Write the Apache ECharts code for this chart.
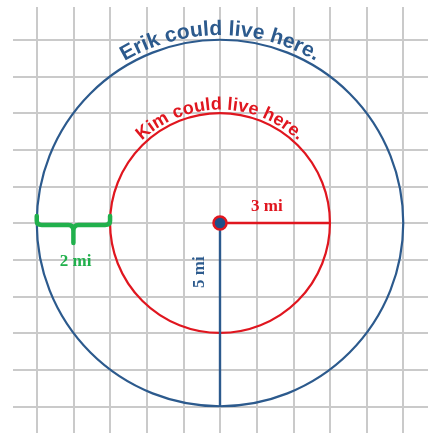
<!DOCTYPE html>
<html>
<head>
<meta charset="utf-8">
<script src="https://cdn.jsdelivr.net/npm/echarts@6/dist/echarts.min.js"></script>
<style>
  html, body { margin: 0; padding: 0; background: #fff; }
  #main { width: 428px; height: 433px; }
</style>
</head>
<body>
<div id="main"></div>
<script>
// 数据: 两个人可以居住的范围 (单位: 英里)
var circleNames = ['Erik', 'Kim'];
var circleRadius = [5, 3];
var circleTexts = ['Erik could live here.', 'Kim could live here.'];
// 半径线: [x1, y1, x2, y2]
var radiusLines = [[0, 0, 3, 0], [0, 0, 0, -5]];
// 括号: 两圆之间的距离
var braceRange = [-5, -3];
var distanceLabels = ['3 mi', '5 mi', '2 mi'];
var axisMin = -6;
var axisMax = 6;

// 样式
var BLUE = '#2c5a8d';
var RED = '#e0161f';
var GREEN = '#21b04c';
var CELL = 36.65;
var CX = 220, CY = 223;

var circleStyle = [
  { color: BLUE, fontSize: 21, gap: 3, spacing: 0 },
  { color: RED, fontSize: 18, gap: 2, spacing: 0 }
];
var lineColors = [RED, BLUE];
var labelStyle = [
  { color: RED, at: [1.28, 0.46], rotation: 0 },
  { color: BLUE, at: [-0.57, -1.34], rotation: Math.PI / 2 },
  { color: GREEN, at: [-3.94, -1.06], rotation: 0 }
];

var measureCtx = document.createElement('canvas').getContext('2d');

// 沿圆弧排列文字
function arcText(text, cx, cy, rBase, st) {
  var font = 'bold ' + st.fontSize + 'px "Liberation Sans", Arial, sans-serif';
  measureCtx.font = font;
  var widths = [];
  var total = 0;
  for (var i = 0; i < text.length; i++) {
    var w = measureCtx.measureText(text[i]).width + st.spacing;
    widths.push(w);
    total += w;
  }
  var rMid = rBase + st.fontSize * 0.36;
  var children = [];
  var s = -total / 2;
  for (var j = 0; j < text.length; j++) {
    var theta = (s + widths[j] / 2) / rBase;
    s += widths[j];
    children.push({
      type: 'text',
      x: cx + rMid * Math.sin(theta),
      y: cy - rMid * Math.cos(theta),
      rotation: -theta,
      style: {
        text: text[j],
        font: font,
        fill: st.color,
        align: 'center',
        verticalAlign: 'middle',
        textAlign: 'center',
        textVerticalAlign: 'middle'
      }
    });
  }
  return children;
}

function renderCircle(params, api) {
  var i = params.dataIndex;
  var c = api.coord([0, 0]);
  var r = api.size([api.value(0), 0])[0];
  var st = circleStyle[i];
  var children = [{
    type: 'circle',
    shape: { cx: c[0], cy: c[1], r: r },
    style: { fill: 'none', stroke: st.color, lineWidth: 2.2 }
  }];
  children = children.concat(arcText(circleTexts[i], c[0], c[1], r + st.gap, st));
  return { type: 'group', children: children };
}

function renderLine(params, api) {
  var p1 = api.coord([api.value(0), api.value(1)]);
  var p2 = api.coord([api.value(2), api.value(3)]);
  return {
    type: 'line',
    shape: { x1: p1[0], y1: p1[1], x2: p2[0], y2: p2[1] },
    style: { stroke: lineColors[params.dataIndex], lineWidth: 2.4 }
  };
}

function renderBrace(params, api) {
  var a = api.coord([api.value(0), 0]);
  var b = api.coord([api.value(1), 0]);
  var x1 = a[0], x2 = b[0], y = a[1], xm = (x1 + x2) / 2;
  var bar = y + 2;
  var d = 'M' + x1 + ',' + (y - 7) + ' L' + x1 + ',' + (bar - 4) +
    ' Q' + x1 + ',' + bar + ' ' + (x1 + 5) + ',' + bar +
    ' L' + (xm - 5) + ',' + bar +
    ' Q' + xm + ',' + bar + ' ' + xm + ',' + (bar + 6) +
    ' L' + xm + ',' + (y + 20) +
    ' M' + xm + ',' + (bar + 6) +
    ' Q' + xm + ',' + bar + ' ' + (xm + 5) + ',' + bar +
    ' L' + (x2 - 5) + ',' + bar +
    ' Q' + x2 + ',' + bar + ' ' + x2 + ',' + (bar - 4) +
    ' L' + x2 + ',' + (y - 7);
  return {
    type: 'path',
    shape: { pathData: d },
    style: { fill: 'none', stroke: GREEN, lineWidth: 4.5, lineCap: 'round', lineJoin: 'round' }
  };
}

function renderDot(params, api) {
  var c = api.coord([api.value(0), api.value(1)]);
  return {
    type: 'circle',
    shape: { cx: c[0], cy: c[1], r: 6.5 },
    style: { fill: '#1f4f88', stroke: RED, lineWidth: 2.5 }
  };
}

function renderLabel(params, api) {
  var i = params.dataIndex;
  var st = labelStyle[i];
  var c = api.coord(st.at);
  return {
    type: 'text',
    x: c[0],
    y: c[1],
    rotation: st.rotation,
    style: {
      text: distanceLabels[i],
      font: 'bold 17px "Liberation Serif", "Times New Roman", serif',
      fill: st.color,
      align: 'center',
      verticalAlign: 'middle',
      textAlign: 'center',
      textVerticalAlign: 'middle'
    }
  };
}

var axisCommon = {
  type: 'value',
  min: axisMin,
  max: axisMax,
  interval: 1,
  axisLine: { show: false },
  axisTick: { show: false },
  axisLabel: { show: false },
  splitLine: { show: true, lineStyle: { color: '#cacaca', width: 2 } }
};

var option = {
  animation: false,
  backgroundColor: '#fff',
  grid: {
    left: CX + axisMin * CELL,
    top: CY - axisMax * CELL,
    width: (axisMax - axisMin) * CELL,
    height: (axisMax - axisMin) * CELL,
    containLabel: false,
    outerBoundsMode: 'none'
  },
  xAxis: axisCommon,
  yAxis: axisCommon,
  graphic: [
    { type: 'rect', z: 5, shape: { x: 0, y: 0, width: 13, height: 433 }, style: { fill: '#fff' } },
    { type: 'rect', z: 5, shape: { x: 0, y: 0, width: 428, height: 7 }, style: { fill: '#fff' } }
  ],
  series: [
    {
      type: 'custom', z: 10, renderItem: renderCircle,
      data: circleRadius.map(function (r, i) { return { name: circleNames[i], value: [r] }; })
    },
    { type: 'custom', z: 11, renderItem: renderLine, data: radiusLines },
    { type: 'custom', z: 12, renderItem: renderBrace, data: [braceRange] },
    { type: 'custom', z: 13, renderItem: renderDot, data: [[0, 0]] },
    {
      type: 'custom', z: 14, renderItem: renderLabel,
      data: distanceLabels.map(function (t, i) { return [i]; })
    }
  ]
};

var chart = echarts.init(document.getElementById('main'));
chart.setOption(option);
</script>
</body>
</html>
